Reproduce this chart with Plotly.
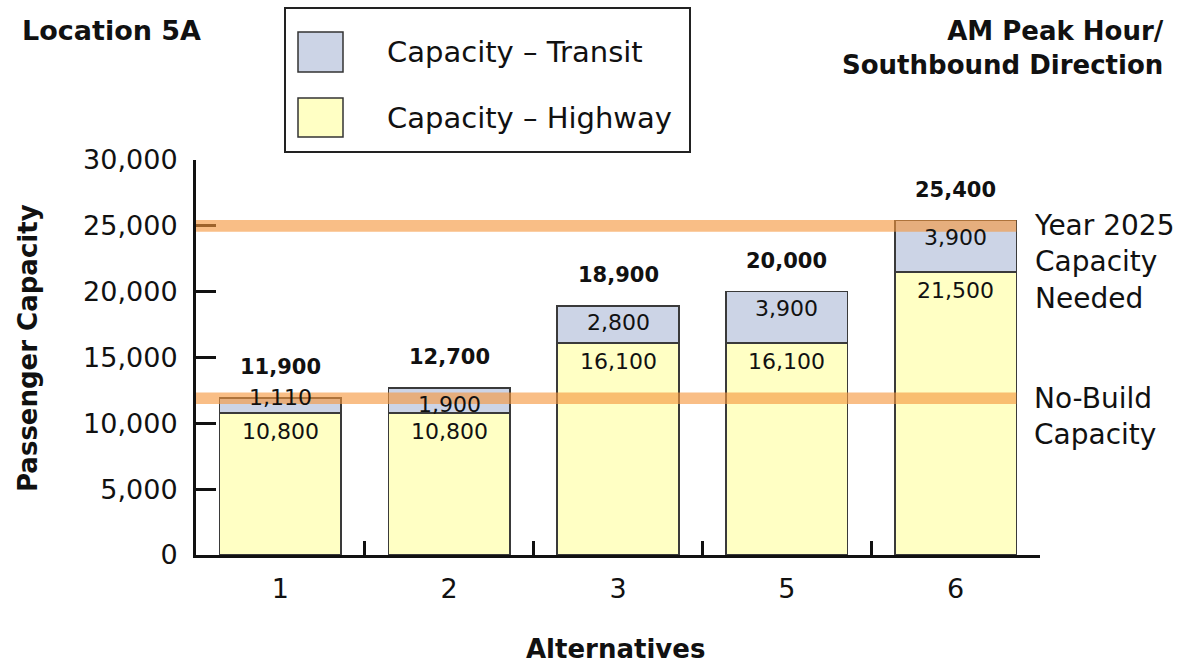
import plotly.graph_objects as go

# ---- data ----
alternatives = ["1", "2", "3", "5", "6"]
highway = [10800, 10800, 16100, 16100, 21500]
transit = [1110, 1900, 2800, 3900, 3900]
totals = [11900, 12700, 18900, 20000, 25400]
band_values = [25000, 11900]
band_labels = ["Year 2025<br>Capacity<br>Needed", "No-Build<br>Capacity"]
y_ticks = [0, 5000, 10000, 15000, 20000, 25000, 30000]
y_tick_text = ["0", "5,000", "10,000", "15,000", "20,000", "25,000", "30,000"]

# ---- layout geometry (pixels) ----
W, H = 1188, 666
L, R, T, B = 196, 148, 160, 111
PW, PH = W - L - R, H - T - B
YMAX = 30000
PXU = PH / YMAX
BAR_W = 0.72
FONT = "DejaVu Sans"

HWY_COLOR = "#FFFFC4"
TRN_COLOR = "#CCD4E6"
EDGE = "#3a3a3a"
BAND = "rgba(245,150,60,0.62)"
TXT = "#111"


def px(xp):
    return (xp - L) / PW


def py(yp):
    return (H - B - yp) / PH


fig = go.Figure()
fig.add_trace(go.Bar(x=alternatives, y=highway, name="Capacity \u2013 Highway",
                     marker=dict(color=HWY_COLOR, line=dict(color=EDGE, width=1.5)),
                     width=BAR_W, hoverinfo="x+y"))
fig.add_trace(go.Bar(x=alternatives, y=transit, name="Capacity \u2013 Transit",
                     marker=dict(color=TRN_COLOR, line=dict(color=EDGE, width=1.5)),
                     width=BAR_W, hoverinfo="x+y"))

shapes = []
annotations = []

# horizontal capacity bands
for v, lab in zip(band_values, band_labels):
    shapes.append(dict(type="rect", xref="x", yref="y",
                       x0=-0.5, x1=len(alternatives) - 1 + BAR_W / 2,
                       y0=v - 440, y1=v + 440, fillcolor=BAND,
                       line=dict(width=0), layer="above"))
    nlines = lab.count("<br>") + 1
    annotations.append(dict(xref="paper", yref="y", x=px(1032), y=v,
                            yshift=-(nlines - 1) * 36.5 / 2,
                            text=lab, showarrow=False, xanchor="left", yanchor="middle",
                            align="left", font=dict(family=FONT, size=28, color=TXT)))

# segment and total labels
LBL = 22
for i, a in enumerate(alternatives):
    annotations.append(dict(xref="x", yref="y", x=i, y=highway[i], text=f"{highway[i]:,}",
                            showarrow=False, yanchor="top", yshift=-4,
                            font=dict(family=FONT, size=LBL, color=TXT)))
    top = highway[i] + transit[i]
    if transit[i] * PXU < 24:
        annotations.append(dict(xref="x", yref="y", x=i, y=top, text=f"{transit[i]:,}",
                                showarrow=False, yanchor="middle", yshift=1,
                                font=dict(family=FONT, size=LBL, color=TXT)))
    else:
        annotations.append(dict(xref="x", yref="y", x=i, y=top, text=f"{transit[i]:,}",
                                showarrow=False, yanchor="top", yshift=-2,
                                font=dict(family=FONT, size=LBL, color=TXT)))
    annotations.append(dict(xref="x", yref="y", x=i, y=top, text=f"<b>{totals[i]:,}</b>",
                            showarrow=False, yanchor="middle", yshift=31,
                            font=dict(family=FONT, size=21, color=TXT)))

# custom legend
shapes.append(dict(type="rect", xref="paper", yref="paper",
                   x0=px(285), x1=px(690), y0=py(152), y1=py(8),
                   line=dict(color="#222", width=2), fillcolor="white"))
for (y0, y1, col, lab) in [(32, 72, TRN_COLOR, "Capacity \u2013 Transit"),
                           (98, 137, HWY_COLOR, "Capacity \u2013 Highway")]:
    shapes.append(dict(type="rect", xref="paper", yref="paper",
                       x0=px(298), x1=px(343), y0=py(y1), y1=py(y0),
                       line=dict(color="#333", width=1.5), fillcolor=col))
    annotations.append(dict(xref="paper", yref="paper", x=px(385), y=py((y0 + y1) / 2),
                            text=lab, showarrow=False, xanchor="left", yanchor="middle",
                            font=dict(family=FONT, size=29, color=TXT)))

# titles
annotations.append(dict(xref="paper", yref="paper", x=px(20), y=py(30),
                        text="<b>Location 5A</b>", showarrow=False, xanchor="left",
                        yanchor="middle", font=dict(family=FONT, size=27, color=TXT)))
annotations.append(dict(xref="paper", yref="paper", x=px(1166), y=py(48),
                        text="<b>AM Peak Hour/<br>Southbound Direction</b>", showarrow=False,
                        xanchor="right", yanchor="middle", align="right",
                        font=dict(family=FONT, size=26, color=TXT)))
annotations.append(dict(xref="paper", yref="paper", x=px(28), y=py(348),
                        text="<b>Passenger Capacity</b>", showarrow=False, textangle=-90,
                        xanchor="center", yanchor="middle",
                        font=dict(family=FONT, size=26, color=TXT)))
annotations.append(dict(xref="paper", yref="paper", x=px(615), y=py(649),
                        text="<b>Alternatives</b>", showarrow=False,
                        xanchor="center", yanchor="middle",
                        font=dict(family=FONT, size=26, color=TXT)))

fig.update_layout(
    width=W, height=H, margin=dict(l=L, r=R, t=T, b=B),
    barmode="stack", showlegend=False,
    plot_bgcolor="white", paper_bgcolor="white",
    shapes=shapes, annotations=annotations,
    font=dict(family=FONT, color=TXT),
    xaxis=dict(type="category", showline=True, linecolor=TXT, linewidth=3,
               ticks="inside", tickson="boundaries", ticklen=14, tickwidth=3, tickcolor=TXT,
               tickfont=dict(family=FONT, size=27), ticklabelstandoff=8,
               showgrid=False, zeroline=False, range=[-0.5, 4.5], fixedrange=True),
    yaxis=dict(range=[0, YMAX], showline=True, linecolor=TXT, linewidth=3,
               ticks="inside", ticklen=20, tickwidth=3, tickcolor=TXT,
               tickvals=y_ticks, ticktext=y_tick_text,
               tickfont=dict(family=FONT, size=27), ticklabelstandoff=10,
               showgrid=False, zeroline=False, fixedrange=True),
)

fig.write_html("out.html")
